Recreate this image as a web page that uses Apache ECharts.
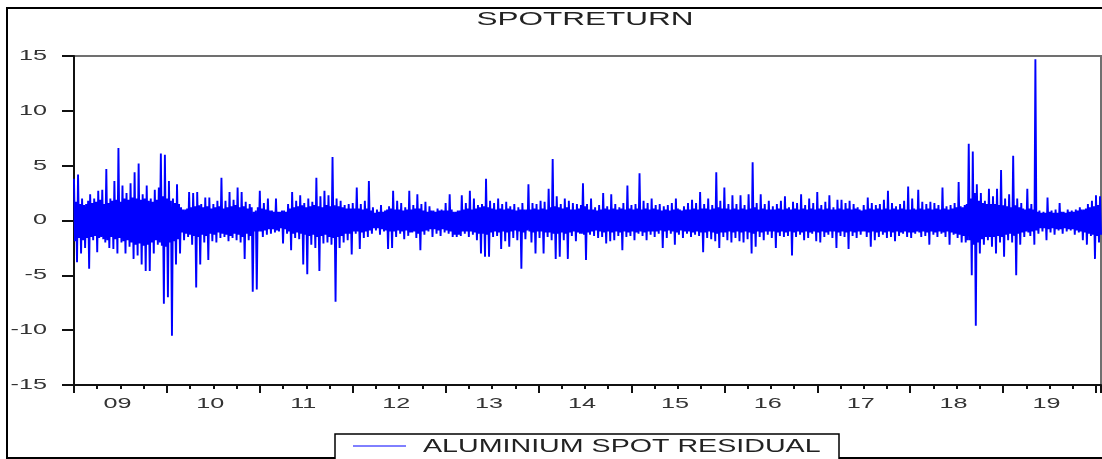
<!DOCTYPE html>
<html>
<head>
<meta charset="utf-8">
<script src="https://cdn.jsdelivr.net/npm/echarts@6/dist/echarts.min.js"></script>
<style>html,body{margin:0;padding:0;background:#fff}#c{width:1102px;height:459px}</style>
</head>
<body>
<div id="c"></div>
<script>
const chartTitle = 'SPOTRETURN';
const seriesName = 'ALUMINIUM SPOT RESIDUAL';
const yearLabels = ['09','10','11','12','13','14','15','16','17','18','19'];
const yTicks = [-15, -10, -5, 0, 5, 10, 15];
const startYear = 2009;
const pointsPerYear = 92;

const r2009 = [3.8,-1.9,1.7,-3.8,4.2,-1.6,1.5,-3.0,2.0,-1.8,1.4,-2.5,1.5,-1.6,1.8,-4.4,2.4,-1.5,1.6,-1.8,2.0,-1.4,1.7,-2.9,2.7,-1.6,1.9,-1.5,2.8,-1.7,1.5,-2.0,4.7,-1.8,1.6,-2.5,2.0,-1.5,1.8,-2.6,3.6,-1.7,1.9,-3.0,6.6,-1.6,1.7,-2.0,3.2,-1.9,2.0,-3.0,2.5,-1.8,1.9,-2.4,3.4,-2.0,2.1,-3.5,4.4,-2.2,2.0,-3.2,5.2,-2.1,1.9,-4.0,2.4,-2.3,2.0,-4.6,3.2,-2.2,1.8,-4.6,2.0,-2.0,1.7,-3.0,2.8,-1.8,1.9,-2.2,3.0,-2.0,6.1,-2.3,2.2,-7.6,6.0,-2.4];
const r2010 = [2.0,-7.0,3.6,-2.0,1.8,-10.5,2.0,-1.9,1.6,-4.0,3.3,-1.7,1.5,-3.0,1.2,-1.1,1.0,-1.8,1.0,-1.2,1.1,-1.5,2.6,-1.3,1.2,-2.2,2.5,-1.4,1.3,-6.1,2.6,-1.5,1.4,-4.0,1.5,-1.3,1.2,-2.0,2.1,-1.4,1.3,-3.6,2.1,-1.2,1.1,-1.9,1.5,-1.3,1.2,-2.0,1.8,-1.1,1.3,-1.6,3.9,-1.2,1.1,-1.5,1.8,-1.3,1.2,-1.9,2.6,-1.4,1.3,-1.6,1.9,-1.2,1.4,-1.8,3.0,-1.3,1.2,-2.0,2.6,-1.5,1.3,-3.5,1.7,-1.2,1.1,-1.8,1.5,-1.4,1.2,-6.5,0.8,-1.0,0.9,-6.3,1.2,-1.0];
const r2011 = [2.7,-1.0,1.1,-1.5,1.6,-0.9,1.0,-1.3,2.0,-0.8,0.9,-1.2,0.9,-0.8,0.8,-1.1,2.0,-0.9,0.8,-1.0,0.8,-0.7,0.9,-2.1,0.9,-0.8,0.8,-1.2,1.5,-1.0,1.1,-2.7,2.6,-1.2,1.2,-1.6,1.8,-1.1,1.3,-1.7,2.3,-1.2,1.4,-4.0,1.6,-1.3,1.2,-4.9,2.0,-1.4,1.3,-2.2,1.7,-1.3,1.4,-2.5,3.9,-1.5,1.3,-4.6,2.2,-1.4,1.2,-2.1,2.7,-1.3,1.4,-2.0,2.3,-1.5,1.3,-2.2,5.8,-1.6,1.4,-7.4,2.0,-1.5,1.3,-2.5,1.8,-1.4,1.2,-2.0,1.4,-1.2,1.1,-1.8,1.5,-1.2,1.1,-3.1];
const r2012 = [1.6,-1.0,1.1,-1.2,3.0,-1.0,1.1,-2.6,1.5,-1.1,1.0,-1.6,1.8,-1.0,1.1,-1.5,3.6,-0.9,0.9,-1.2,1.2,-0.7,0.7,-0.9,1.0,-0.7,0.8,-1.3,1.4,-0.8,0.8,-1.0,0.9,-0.9,1.0,-2.6,1.3,-1.0,1.1,-2.5,2.7,-1.0,1.0,-1.5,1.8,-0.9,1.0,-1.2,1.6,-1.0,0.9,-1.7,1.2,-0.9,1.0,-1.4,2.7,-1.1,1.0,-1.1,1.4,-1.0,1.1,-1.6,2.4,-1.2,1.1,-2.7,1.5,-1.0,0.9,-1.3,1.7,-0.9,0.8,-1.0,1.3,-0.8,0.9,-1.5,0.9,-0.8,0.8,-1.2,1.1,-0.9,0.9,-1.4,1.0,-0.8,0.9,-1.1];
const r2013 = [1.6,-0.9,0.9,-1.2,2.4,-1.0,1.0,-1.5,0.8,-1.3,0.8,-1.5,0.9,-1.3,0.9,-1.4,2.3,-1.0,1.0,-1.2,1.6,-1.0,1.1,-1.5,2.7,-1.0,1.0,-1.3,2.0,-1.1,1.1,-1.8,1.4,-1.2,1.2,-3.0,1.5,-1.2,1.3,-3.3,3.8,-1.3,1.2,-3.3,1.8,-1.1,1.1,-1.5,1.6,-1.0,1.0,-1.4,2.0,-1.1,1.1,-2.6,1.5,-1.0,1.0,-1.9,1.7,-1.1,1.1,-2.4,1.3,-1.0,1.0,-1.6,1.5,-0.9,0.9,-1.8,1.2,-1.0,1.0,-4.4,1.6,-1.1,1.0,-1.7,1.0,-0.9,3.3,-1.0,1.0,-2.0,1.6,-1.1,1.1,-3.0,1.5,-1.0];
const r2014 = [1.0,-1.6,1.8,-1.0,1.1,-3.0,1.7,-1.1,1.0,-1.5,2.9,-1.1,1.2,-1.8,5.6,-1.2,1.3,-3.5,2.2,-1.2,1.2,-3.3,1.5,-1.1,1.1,-1.8,2.0,-1.2,1.2,-3.5,1.8,-1.1,1.0,-1.4,1.6,-1.0,1.0,-1.9,1.5,-1.1,1.1,-1.2,1.4,-1.2,3.4,-1.3,1.3,-3.6,1.5,-1.1,1.0,-1.3,2.0,-1.0,1.0,-1.4,1.2,-0.9,0.9,-1.6,1.4,-1.0,1.0,-1.5,2.5,-1.1,1.1,-2.1,1.3,-1.0,1.0,-1.9,2.4,-1.1,1.1,-1.8,1.5,-1.0,1.0,-1.4,1.2,-1.1,1.1,-2.7,1.6,-1.0,1.0,-1.5,3.2,-1.1,1.1,-1.4];
const r2015 = [1.4,-1.0,1.0,-1.8,1.5,-1.1,1.1,-1.2,4.3,-1.0,1.0,-1.4,1.8,-1.1,1.1,-1.8,1.6,-1.0,1.0,-1.3,2.0,-1.0,1.1,-1.5,1.4,-1.0,1.0,-1.2,1.5,-0.9,0.9,-2.5,1.3,-1.0,1.0,-1.6,1.4,-0.9,0.9,-1.2,1.6,-1.0,1.0,-2.2,2.0,-1.1,1.1,-1.3,1.0,-0.9,0.9,-1.6,1.3,-1.0,1.0,-1.2,1.6,-1.0,1.0,-1.5,1.9,-1.1,1.1,-1.3,1.6,-1.0,1.0,-1.4,2.6,-1.1,1.1,-2.9,1.5,-1.1,1.1,-1.6,2.0,-1.0,1.0,-1.7,1.4,-1.1,1.1,-1.9,4.4,-1.2,1.2,-2.5,1.8,-1.1,1.1,-1.5];
const r2016 = [3.0,-1.1,1.1,-1.8,1.5,-1.0,1.0,-2.0,2.3,-1.1,1.1,-1.6,1.5,-1.0,1.0,-1.9,2.3,-1.1,1.1,-2.0,1.4,-1.0,1.0,-1.7,2.4,-1.1,1.1,-3.0,5.3,-1.2,1.2,-2.4,1.6,-1.0,1.0,-1.5,2.4,-1.1,1.1,-1.8,1.5,-1.0,1.0,-1.3,1.8,-1.0,1.0,-1.6,1.3,-1.0,1.0,-2.5,1.5,-1.1,1.1,-1.4,1.8,-1.0,1.0,-1.5,2.2,-1.1,1.1,-1.4,1.2,-1.0,1.0,-3.2,1.7,-1.1,1.1,-1.5,1.6,-1.0,1.0,-1.3,2.4,-1.1,1.1,-1.8,1.4,-1.0,1.0,-1.6,2.0,-1.1,1.1,-1.2,1.6,-1.0,1.0,-1.9];
const r2017 = [2.6,-1.1,1.1,-2.0,1.4,-1.0,1.0,-1.5,1.7,-1.1,1.1,-1.3,2.3,-1.0,1.0,-1.6,1.2,-1.0,1.0,-2.5,1.9,-1.1,1.1,-1.4,1.9,-1.0,1.0,-1.5,1.6,-1.1,1.1,-2.6,1.8,-1.0,1.0,-1.4,1.5,-1.1,1.1,-1.6,1.2,-1.0,1.0,-1.3,0.9,-1.0,1.4,-1.0,1.0,-1.5,2.1,-1.1,1.1,-2.4,1.6,-1.0,1.0,-1.8,1.4,-1.1,1.1,-1.5,1.5,-1.0,1.0,-1.3,1.9,-1.1,1.1,-1.6,2.7,-1.0,1.0,-1.5,1.6,-1.1,1.1,-1.9,1.3,-1.0,1.0,-1.4,1.5,-1.1,1.1,-1.2,1.8,-1.0,1.0,-1.5,3.1,-1.1];
const r2018 = [1.0,-1.6,2.0,-1.1,1.1,-1.2,1.0,-1.0,2.8,-1.1,1.1,-1.5,1.7,-1.0,1.0,-1.4,1.5,-1.1,1.1,-2.2,1.7,-1.0,1.0,-1.3,1.6,-1.1,1.1,-1.5,1.4,-1.0,1.0,-1.2,3.0,-1.1,1.1,-1.5,1.3,-1.0,1.0,-2.2,1.4,-1.1,1.1,-1.3,1.6,-1.2,1.2,-1.6,3.5,-1.3,1.3,-2.0,1.2,-1.4,1.4,-2.0,1.5,-1.8,7.0,-1.8,2.0,-5.0,6.3,-2.2,2.5,-9.6,3.3,-2.0,1.8,-3.0,2.5,-1.7,1.6,-2.2,1.8,-1.5,1.5,-1.8,2.9,-1.5,1.5,-2.4,2.2,-1.5,1.5,-3.0,2.9,-1.4,1.4,-2.0,4.6,-1.5];
const r2019 = [1.4,-3.3,2.0,-1.3,1.3,-1.8,2.4,-1.2,1.2,-2.0,5.9,-1.4,1.4,-5.0,2.0,-1.2,1.2,-2.2,1.6,-1.1,1.1,-1.5,1.0,-1.0,2.9,-1.1,1.1,-1.4,1.5,-1.0,1.0,-2.2,14.7,-0.9,0.8,-1.2,0.9,-0.7,0.7,-1.0,0.8,-0.7,0.7,-1.8,2.1,-0.8,0.8,-1.1,0.9,-0.7,0.7,-1.3,1.0,-0.8,0.7,-0.9,1.6,-0.8,0.8,-1.2,0.8,-0.7,0.7,-1.0,1.0,-0.8,0.8,-0.9,0.9,-0.8,0.8,-1.3,1.0,-0.9,0.9,-1.1,1.2,-1.0,1.0,-1.8,1.0,-1.1,1.1,-2.2,1.5,-1.2,1.2,-1.4,1.8,-1.3,1.3,-3.5,2.3,-1.4,1.4,-2.0,2.2,-1.3];

const values = [].concat(r2009, r2010, r2011, r2012, r2013, r2014, r2015, r2016, r2017, r2018, r2019);
const seriesData = values.map((v, i) => [startYear + i / pointsPerYear, v]);

const FONT = 'Liberation Sans';
const TEXT_COLOR = '#333';
const LABEL_SIZE = 14;
const LABEL_STRETCH = 1.8;

const chart = echarts.init(document.getElementById('c'), null, {renderer: 'canvas'});
chart.setOption({
  animation: false,
  backgroundColor: '#fff',
  grid: {left: 74, right: 1, top: 56, bottom: 74, show: true, borderColor: '#707070', borderWidth: 2, containLabel: false},
  xAxis: {
    type: 'value',
    min: 2009,
    max: 2020.054,
    interval: 1,
    axisLine: {show: true, onZero: false, lineStyle: {color: '#111', width: 2}},
    axisTick: {show: true, length: 8, lineStyle: {color: '#111', width: 2}},
    minorTick: {show: true, splitNumber: 4, length: 4, lineStyle: {color: '#111', width: 2}},
    splitLine: {show: false},
    minorSplitLine: {show: false},
    axisLabel: {show: false}
  },
  yAxis: {
    type: 'value',
    min: -15,
    max: 15,
    interval: 5,
    axisLine: {show: true, onZero: false, lineStyle: {color: '#111', width: 2}},
    axisTick: {show: true, length: 12, lineStyle: {color: '#111', width: 2}},
    splitLine: {show: false},
    axisLabel: {show: false}
  },
  series: [{
    name: seriesName,
    type: 'line',
    data: seriesData,
    showSymbol: false,
    symbol: 'none',
    lineStyle: {color: '#0000ff', width: 1.9},
    itemStyle: {color: '#0000ff'},
    clip: true
  }]
});

// measure text so stretched labels can be anchored precisely
const measureCtx = document.createElement('canvas').getContext('2d');
measureCtx.font = LABEL_SIZE + 'px "' + FONT + '"';
function stretchedWidth(t) { return measureCtx.measureText(t).width * LABEL_STRETCH; }

const axisX = chart.convertToPixel({xAxisIndex: 0}, startYear);
const axisY = chart.convertToPixel({yAxisIndex: 0}, -15);
const labelFont = {fontSize: LABEL_SIZE, fontFamily: FONT, fill: TEXT_COLOR};
const graphics = [
  {type: 'rect', shape: {x: 7, y: 8, width: 1100, height: 450}, style: {fill: 'none', stroke: '#000', lineWidth: 2}, z: 100},
  {type: 'text', x: 585, y: 20, scaleX: 1.75, style: {text: chartTitle, align: 'center', verticalAlign: 'middle', fontSize: 18, fontFamily: FONT, fill: '#222'}, z: 100},
  {type: 'rect', shape: {x: 335, y: 434, width: 504, height: 26}, style: {fill: '#fff', stroke: '#000', lineWidth: 1.5}, z: 100},
  {type: 'line', shape: {x1: 353, y1: 446, x2: 406, y2: 446}, style: {stroke: '#0000ff', lineWidth: 1}, z: 101},
  {type: 'text', x: 423, y: 447, scaleX: 1.59, style: {text: seriesName, align: 'left', verticalAlign: 'middle', fontSize: 18, fontFamily: FONT, fill: '#222'}, z: 101}
];
yTicks.forEach(v => {
  const t = String(v);
  graphics.push({type: 'text', x: axisX - 27 - stretchedWidth(t), y: chart.convertToPixel({yAxisIndex: 0}, v), scaleX: LABEL_STRETCH,
    style: Object.assign({text: t, align: 'left', verticalAlign: 'middle'}, labelFont), z: 50});
});
yearLabels.forEach((l, i) => {
  const cx = chart.convertToPixel({xAxisIndex: 0}, startYear + i + 0.5) - 3;
  graphics.push({type: 'text', x: cx - stretchedWidth(l) / 2, y: axisY + 19, scaleX: LABEL_STRETCH,
    style: Object.assign({text: l, align: 'left', verticalAlign: 'middle'}, labelFont), z: 50});
});
chart.setOption({graphic: graphics});
</script>
</body>
</html>
